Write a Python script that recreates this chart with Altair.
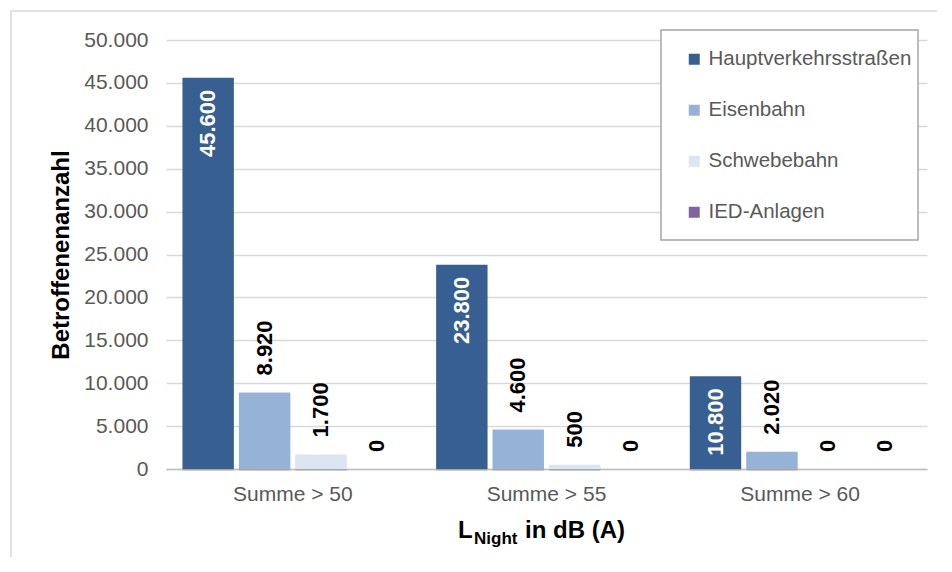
import altair as alt
import pandas as pd

categories = ["Summe > 50", "Summe > 55", "Summe > 60"]
series = ["Hauptverkehrsstraßen", "Eisenbahn", "Schwebebahn", "IED-Anlagen"]
hauptverkehr = [45600, 23800, 10800]
eisenbahn = [8920, 4600, 2020]
schwebebahn = [1700, 500, 0]
ied_anlagen = [0, 0, 0]
colors = ["#375F92", "#95B3D7", "#DCE6F2", "#8064A2"]
y_ticks = [0, 5000, 10000, 15000, 20000, 25000, 30000, 35000, 40000, 45000, 50000]

rows = []
for s, vals in zip(series, [hauptverkehr, eisenbahn, schwebebahn, ied_anlagen]):
    for c, v in zip(categories, vals):
        rows.append({"Kategorie": c, "Quelle": s, "Wert": v,
                     "Label": f"{v:,}".replace(",", ".")})
df = pd.DataFrame(rows)

FONT = "Liberation Sans"

x = alt.X("Kategorie:N", sort=categories,
          scale=alt.Scale(paddingInner=0.13, paddingOuter=0.065),
          axis=alt.Axis(title=None, labelAngle=0, labelFontSize=21, labelColor="#595959",
                        labelPadding=14, ticks=False, domainColor="#BFBFBF", domainWidth=1.5,
                        grid=False))
xoff = alt.XOffset("Quelle:N", sort=series,
                   scale=alt.Scale(domain=series, paddingInner=0.09))
y = alt.Y("Wert:Q", scale=alt.Scale(domain=[0, 50000], nice=False),
          axis=alt.Axis(values=y_ticks, title="Betroffenenanzahl",
                        labelExpr="replace(format(datum.value, ',d'), ',', '.')",
                        labelFontSize=21, labelColor="#595959", labelPadding=18,
                        ticks=False, domain=False, gridColor="#D9D9D9", gridWidth=1.5,
                        titleFontSize=24, titleFontWeight="bold", titleColor="#000000",
                        titlePadding=10))
color = alt.Color("Quelle:N", sort=series,
                  scale=alt.Scale(domain=series, range=colors),
                  legend=alt.Legend(orient="none", legendX=518, legendY=9, title=None,
                                    symbolType="square", symbolSize=121, symbolStrokeWidth=0,
                                    labelFontSize=20.5, labelColor="#595959", rowPadding=30,
                                    labelOffset=4, padding=0, labelFont=FONT, labelLimit=400))

base = alt.Chart(df)

# decorative frames
frame_df = pd.DataFrame({"k": [0]})
outer = alt.Chart(frame_df).mark_rect(fill="transparent", stroke="#D9D9D9", strokeWidth=1.5).encode(
    x=alt.value(-155), x2=alt.value(820), y=alt.value(-29), y2=alt.value(560))
legend_box = alt.Chart(frame_df).mark_rect(fill="white", stroke="#A6A6A6", strokeWidth=1.5).encode(
    x=alt.value(495), x2=alt.value(752), y=alt.value(-10), y2=alt.value(200))

shadow = base.mark_bar(color="#000000", opacity=0.12, xOffset=3, yOffset=2).encode(
    x=x, xOffset=xoff, y=y)
bars = base.mark_bar().encode(x=x, xOffset=xoff, y=y, color=color)

inside = base.transform_filter(alt.datum.Quelle == "Hauptverkehrsstraßen").mark_text(
    angle=270, align="right", baseline="middle", dx=-12, color="white",
    fontWeight="bold", fontSize=22, font=FONT).encode(x=x, xOffset=xoff, y=y, text="Label:N")
outside = base.transform_filter(alt.datum.Quelle != "Hauptverkehrsstraßen").mark_text(
    angle=270, align="left", baseline="middle", dx=17, color="black",
    fontWeight="bold", fontSize=22, font=FONT).encode(x=x, xOffset=xoff, y=y, text="Label:N")

t1 = alt.Chart(frame_df).mark_text(align="left", baseline="alphabetic", fontSize=24,
                                  fontWeight="bold", font=FONT, color="black").encode(
    x=alt.value(292), y=alt.value(498), text=alt.value("L"))
t2 = alt.Chart(frame_df).mark_text(align="left", baseline="alphabetic", fontSize=17,
                                  fontWeight="bold", font=FONT, color="black").encode(
    x=alt.value(308), y=alt.value(504), text=alt.value("Night"))
t3 = alt.Chart(frame_df).mark_text(align="left", baseline="alphabetic", fontSize=24,
                                  fontWeight="bold", font=FONT, color="black").encode(
    x=alt.value(359), y=alt.value(498), text=alt.value("in dB (A)"))

chart = alt.layer(outer, legend_box, shadow, bars, inside, outside, t1, t2, t3).properties(
    width=761, height=429,
    autosize=alt.AutoSizeParams(type="none"),
    padding={"left": 158, "top": 32, "right": 10, "bottom": 88},
).configure(font=FONT).configure_view(stroke=None)

chart.save("out.html", embed_options={"renderer": "svg", "actions": False})
